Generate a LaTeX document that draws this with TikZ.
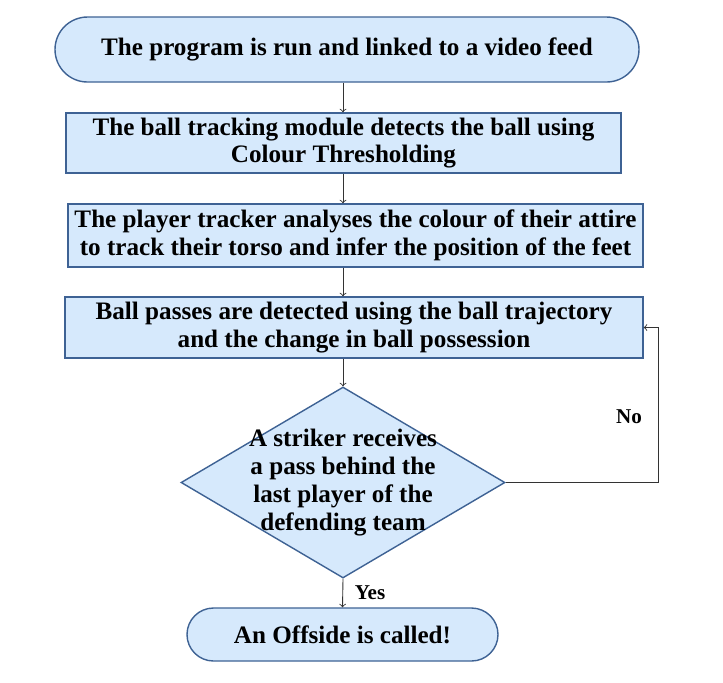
\documentclass[tikz,border=0pt]{standalone}
\usepackage{fontspec}
\setmainfont{Liberation Serif}
\usepackage{xcolor}
\usetikzlibrary{shapes.geometric}

\definecolor{boxfill}{RGB}{214,233,252}
\definecolor{boxline}{RGB}{62,98,148}

\tikzset{
  base/.style={draw=boxline, fill=boxfill, line width=0.8pt, align=center, inner sep=0pt,
    font=\bfseries\fontsize{14.3}{15.8}\selectfont},
  terminal/.style={base, rounded corners=#1},
  process/.style={base},
  decision/.style={diamond, draw=boxline, fill=boxfill, line width=0.8pt, inner sep=0pt},
  flow/.style={->, draw=black!80, line width=0.5pt},
  lbl/.style={font=\bfseries\fontsize{12}{13}\selectfont, inner sep=1pt}
}

\begin{document}
\begin{tikzpicture}
  \useasboundingbox (0,0) rectangle (14.46,-13.64);

  % steps
  \node[terminal=0.65cm, minimum width=11.68cm, minimum height=1.3cm] (start) at (6.94,-0.99)
    {The program is run and linked to a video feed};
  \node[process, minimum width=11.1cm, minimum height=1.2cm] (track) at (6.87,-2.86)
    {The ball tracking module detects the ball using\\Colour Thresholding};
  \node[process, minimum width=11.5cm, minimum height=1.26cm] (player) at (7.11,-4.71)
    {The player tracker analyses the colour of their attire\\to track their torso and infer the position of the feet};
  \node[process, minimum width=11.56cm, minimum height=1.22cm] (pass) at (7.08,-6.55)
    {Ball passes are detected using the ball trajectory\\and the change in ball possession};
  \node[decision, minimum width=6.48cm, minimum height=3.82cm] (striker) at (6.86,-9.65) {};
  \node[align=center, font=\bfseries\fontsize{14.3}{15.8}\selectfont] (strikertext) at (striker.center)
    {A striker receives\\a pass behind the\\last player of the\\defending team};
  \node[terminal=0.53cm, minimum width=6.22cm, minimum height=1.06cm] (offside) at (6.85,-12.69)
    {An Offside is called!};

  % arrows
  \draw[flow] (start.south -| striker.north) -- (track.north -| striker.north);
  \draw[flow] (track.south -| striker.north) -- (player.north -| striker.north);
  \draw[flow] (player.south -| striker.north) -- (pass.north -| striker.north);
  \draw[flow] (pass.south -| striker.north) -- (striker.north);
  \draw[flow] (striker.south) -- (offside.north);
  \draw[flow] (striker.east) -- ++(3.06,0) coordinate (turn) |- (pass.east);

  \node[lbl] (no) at (12.58,-8.34) {No};
  \node[lbl] (yes) at (7.4,-11.86) {Yes};
\end{tikzpicture}
\end{document}
